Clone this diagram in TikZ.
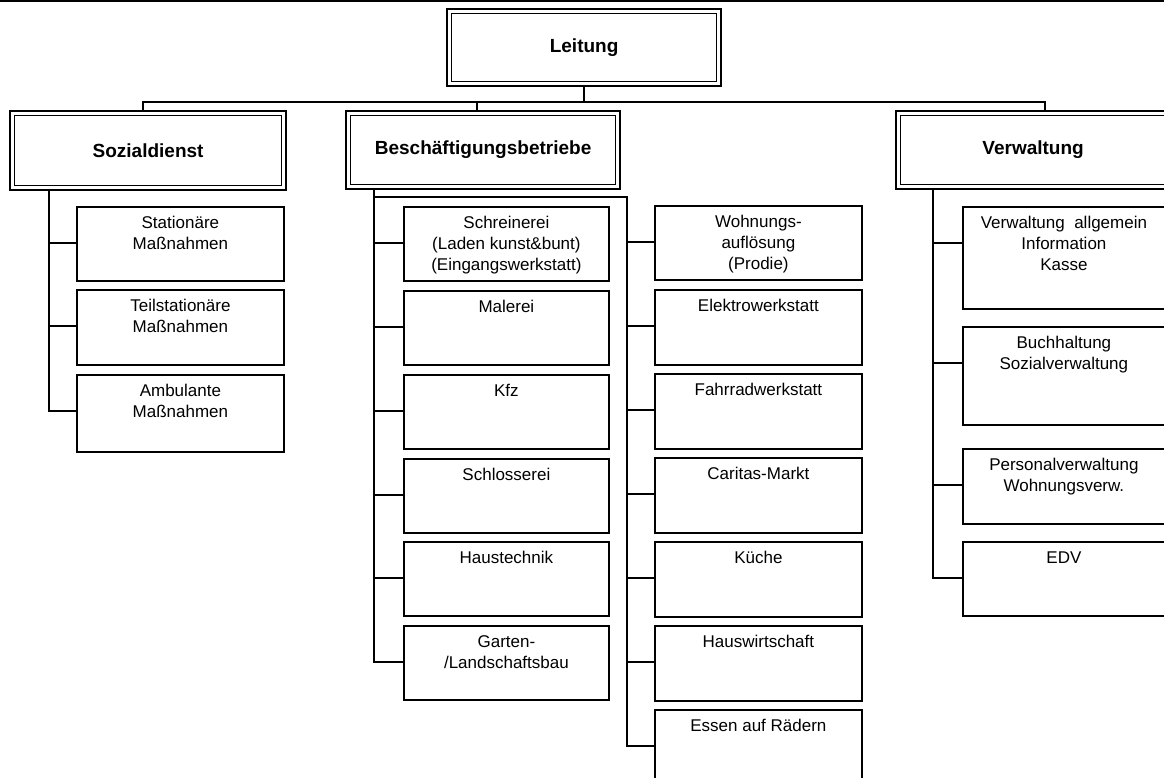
\documentclass[tikz,border=0pt]{standalone}
\usepackage{fontspec}
\setmainfont{Liberation Sans}
\usetikzlibrary{calc}

% top-aligned cell text: width, height, contents
\newcommand\subcell[3]{\parbox[c][#2][t]{#1}{\centering\rule{0pt}{22pt}#3}}
% unit box with its connector point 37 units below the top edge
\newcommand\unitbox[6]{%
  \node[unit] (#1) at (#2,#3) {\subcell{#4pt}{#5pt}{#6}};
  \coordinate (#1t) at ($(#1.north west)+(0,37)$);}

\tikzset{
  conn/.style={line width=1.8pt, line cap=rect},
  dept/.style={draw, line width=2.2pt, inner sep=0pt, anchor=north west,
    font=\fontsize{19}{22}\selectfont\bfseries,
    path picture={\draw[line width=1pt]
      ([xshift=4.5pt,yshift=-4.5pt]path picture bounding box.north west) rectangle
      ([xshift=-4.5pt,yshift=4.5pt]path picture bounding box.south east);}},
  unit/.style={draw, line width=1.8pt, inner sep=0pt, anchor=north west,
    font=\fontsize{17}{21}\selectfont},
}

\begin{document}
\begin{tikzpicture}[x=1pt,y=-1pt]
\useasboundingbox (0,0) rectangle (1164,778);

% frame edge along the top
\draw[line width=2pt] (0,1) -- (1164,1);

% management and departments
\node[dept, minimum width=274pt, minimum height=77pt] (lead) at (446,8) {Leitung};
\node[dept, minimum width=276pt, minimum height=79pt] (soz)  at (9,110) {Sozialdienst};
\node[dept, minimum width=274pt, minimum height=78pt] (bes)  at (345,110) {Beschäftigungsbetriebe};
\node[dept, minimum width=274pt, minimum height=78pt] (verw) at (895,110) {Verwaltung};

% Sozialdienst units
\unitbox{s1}{76}{206}{207}{74}{Stationäre\\Maßnahmen}
\unitbox{s2}{76}{289}{207}{75}{Teilstationäre\\Maßnahmen}
\unitbox{s3}{76}{374}{207}{77}{Ambulante\\Maßnahmen}

% Beschäftigungsbetriebe, left column
\unitbox{b1}{403}{206}{205}{74}{Schreinerei\\(Laden kunst\&bunt)\\(Eingangswerkstatt)}
\unitbox{b2}{403}{290}{205}{74}{Malerei}
\unitbox{b3}{403}{374}{205}{74}{Kfz}
\unitbox{b4}{403}{458}{205}{74}{Schlosserei}
\unitbox{b5}{403}{541}{205}{74}{Haustechnik}
\unitbox{b6}{403}{625}{205}{74}{Garten-\\/Landschaftsbau}

% Beschäftigungsbetriebe, right column
\unitbox{r1}{654}{205}{207}{74}{Wohnungs-\\auflösung\\(Prodie)}
\unitbox{r2}{654}{289}{207}{75}{Elektrowerkstatt}
\unitbox{r3}{654}{373}{207}{75}{Fahrradwerkstatt}
\unitbox{r4}{654}{457}{207}{75}{Caritas-Markt}
\unitbox{r5}{654}{541}{207}{75}{Küche}
\unitbox{r6}{654}{625}{207}{75}{Hauswirtschaft}
\unitbox{r7}{654}{709}{207}{75}{Essen auf Rädern}

% Verwaltung units
\unitbox{v1}{962}{206}{202}{102}{Verwaltung\ \ allgemein\\Information\\Kasse}
\unitbox{v2}{962}{326}{202}{98}{Buchhaltung\\Sozialverwaltung}
\unitbox{v3}{962}{448}{202}{75}{Personalverwaltung\\Wohnungsverw.}
\unitbox{v4}{962}{541}{202}{74}{EDV}

% spine positions
\coordinate (busL) at (143,102);
\coordinate (busM) at (477,102);
\coordinate (busR) at (1045,102);
\coordinate (xS)  at (49,0);
\coordinate (xBL) at (374,0);
\coordinate (xBR) at (627,0);
\coordinate (xV)  at (933,0);
\coordinate (jL)  at (374,197);
\coordinate (jR)  at (627,197);

% management to departments
\draw[conn] (lead.south) -- (lead.south |- busL);
\draw[conn] (busL |- soz.north) -- (busL) -- (busR) -- (busR |- verw.north);
\draw[conn] (busM) -- (busM |- bes.north);

% Sozialdienst spine
\draw[conn] (soz.south -| xS) |- (s3t);
\foreach \n in {s1,s2} \draw[conn] (\n t -| xS) -- (\n t);

% Beschäftigungsbetriebe spines
\draw[conn] (bes.south -| xBL) |- (b6t);
\foreach \n in {b1,b2,b3,b4,b5} \draw[conn] (\n t -| xBL) -- (\n t);
\draw[conn] (jL) -- (jR) |- (r7t);
\foreach \n in {r1,r2,r3,r4,r5,r6} \draw[conn] (\n t -| xBR) -- (\n t);

% Verwaltung spine
\draw[conn] (verw.south -| xV) |- (v4t);
\foreach \n in {v1,v2,v3} \draw[conn] (\n t -| xV) -- (\n t);
\end{tikzpicture}
\end{document}
